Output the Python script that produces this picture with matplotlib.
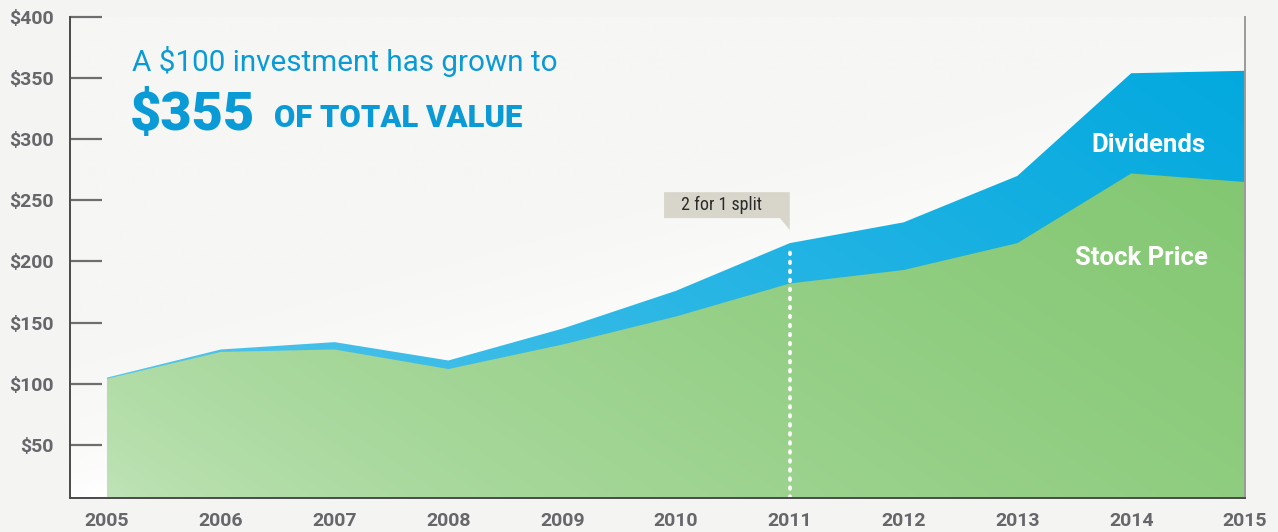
import numpy as np
import matplotlib
matplotlib.use("Agg")
import matplotlib.pyplot as plt
from matplotlib.colors import to_rgb
from matplotlib.patches import Polygon

# ---------------------------------------------------------------------------
# data
# ---------------------------------------------------------------------------

years = [2005, 2006, 2007, 2008, 2009, 2010, 2011, 2012, 2013, 2014, 2015]
stock_price = [104, 126, 128, 112, 132, 155, 182, 193, 215, 272, 265]
total_value = [105, 128, 134, 119, 145, 176, 215, 232, 270, 354, 356]
y_ticks = [50, 100, 150, 200, 250, 300, 350, 400]
y_labels = [f"${v}" for v in y_ticks]
split_year = 2011

# ---------------------------------------------------------------------------
# style
# ---------------------------------------------------------------------------

COND = ["Roboto Condensed", "Roboto", "DejaVu Sans"]
WIDE = ["Roboto", "DejaVu Sans"]
plt.rcParams["font.family"] = WIDE
BG = "#f4f4f2"
GREY = "#66666b"
BLUE_TXT = "#0a9ad6"

XMIN, XMAX = 2004.675, 2015.0
YMIN, YMAX = 6.5, 400.0


def gradient(c0, c1, n=300, tilt=0.6):
    # diagonal gradient from bottom-left (c0) to right (c1)
    xs = np.linspace(0, 1, n)
    ys = np.linspace(0, 1, n)
    X, Y = np.meshgrid(xs, ys)
    t = np.clip((X + tilt * Y) / (1 + tilt), 0, 1) ** 0.55
    a, b = np.array(to_rgb(c0)), np.array(to_rgb(c1))
    return a + (b - a) * t[..., None]


fig = plt.figure(figsize=(12.78, 5.32), dpi=100, facecolor=BG)
ax = fig.add_axes([70 / 1278, 34 / 532, 1175 / 1278, 481 / 532])
ax.set_facecolor("#fafaf9")
ax.set_xlim(XMIN, XMAX)
ax.set_ylim(YMIN, YMAX)

# background fade in plot area
bg = gradient("#ffffff", "#f6f6f4", tilt=-1.5)
ax.imshow(bg[::-1], extent=[XMIN, XMAX, YMIN, YMAX], aspect="auto", zorder=0)

# --- dividends (total) area ---
blue_poly = ax.fill_between(years, 0, total_value, facecolor="none",
                            edgecolor="none", zorder=1)
blue = ax.imshow(gradient("#7fd3f2", "#00a8de"), origin="lower",
                 extent=[XMIN, XMAX, YMIN, YMAX], aspect="auto", zorder=2)
blue.set_clip_path(blue_poly.get_paths()[0], transform=ax.transData)

# --- stock price area ---
green_poly = ax.fill_between(years, 0, stock_price, facecolor="none",
                             edgecolor="none", zorder=3)
green = ax.imshow(gradient("#c8e7c1", "#7ec56c"), origin="lower",
                  extent=[XMIN, XMAX, YMIN, YMAX], aspect="auto", zorder=4)
green.set_clip_path(green_poly.get_paths()[0], transform=ax.transData)

# --- split marker ---
split_top = total_value[years.index(split_year)]
ax.plot([split_year, split_year], [YMIN, split_top - 2], color="white",
        linestyle=(0, (0.5, 2.0)), linewidth=2.6, dash_capstyle="round",
        zorder=5)
box = Polygon([(2009.895, 256.7), (2011.0, 256.7), (2011.0, 225.7),
               (2010.914, 235.5), (2009.895, 235.5)],
              closed=True, facecolor="#d8d5cb", edgecolor="none", zorder=5)
ax.add_patch(box)
ax.text(2010.40, 246, "2 for 1 split", ha="center", va="center",
        fontsize=13, color="#2b2b2b", zorder=6, family=COND)

# --- series labels ---
ax.text(2014.15, 295, "Dividends", ha="center", va="center", fontsize=18.5,
        fontweight="bold", color="white", zorder=6)
ax.text(2014.09, 203, "Stock Price", ha="center", va="center", fontsize=18.5,
        fontweight="bold", color="white", zorder=6)

# --- headline ---
fig.text(132 / 1278, 1 - 71 / 532, "A $100 investment has grown to",
         fontsize=21.3, color=BLUE_TXT, ha="left", va="baseline")
fig.text(130 / 1278, 1 - 130 / 532, "$355", fontsize=39, fontweight="black",
         color=BLUE_TXT, ha="left", va="baseline")
fig.text(274 / 1278, 1 - 127 / 532, "OF TOTAL VALUE", fontsize=22.3,
         fontweight="black", color=BLUE_TXT, ha="left", va="baseline")

# --- axes ---
ax.set_yticks(y_ticks)
ax.set_yticklabels(y_labels)
ax.set_xticks(years)
ax.set_xticklabels([str(y) for y in years])
ax.tick_params(axis="y", direction="in", length=23, width=1.6, color="#6e6e6e",
               pad=12, labelsize=14, labelcolor=GREY)
ax.tick_params(axis="x", length=0, pad=10, labelsize=14, labelcolor=GREY)
for lab in ax.get_xticklabels() + ax.get_yticklabels():
    lab.set_fontweight("bold")
for t in ax.yaxis.get_major_ticks():
    t.tick1line.set_zorder(7)

ax.spines["top"].set_visible(False)
for side in ("left", "bottom", "right"):
    ax.spines[side].set_color("#4a4a4a")
    ax.spines[side].set_linewidth(1.4)
    ax.spines[side].set_zorder(8)
ax.spines["right"].set_color("#9a9a9a")

fig.savefig("out.png", dpi=100, facecolor=BG)
